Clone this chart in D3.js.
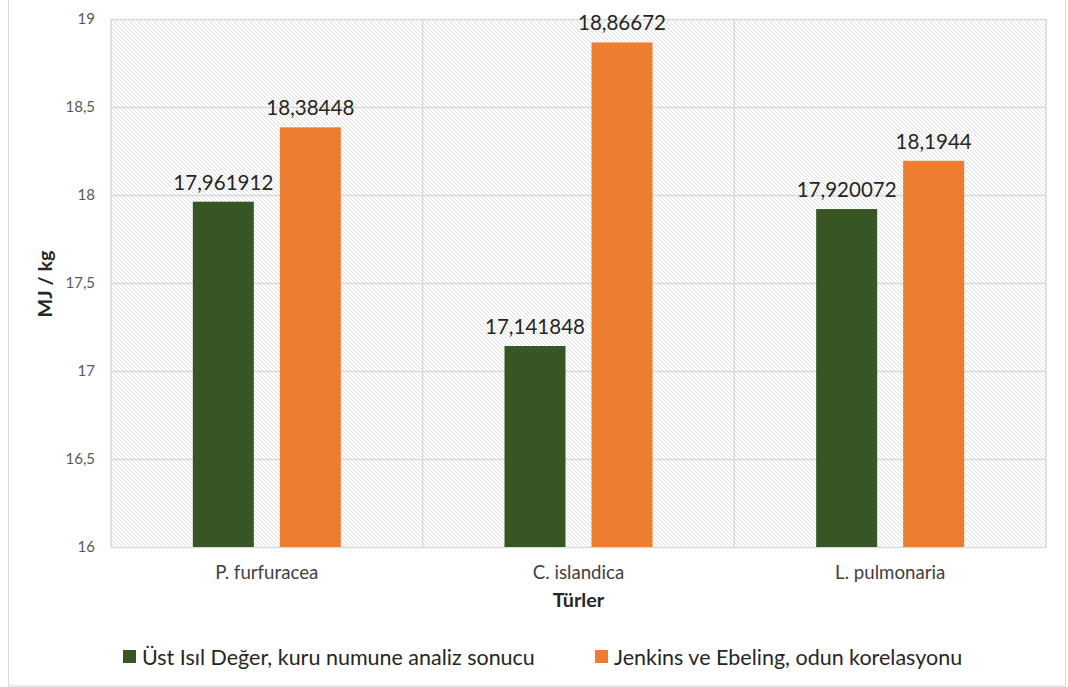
<!DOCTYPE html>
<html><head><meta charset="utf-8">
<script src="https://cdn.jsdelivr.net/npm/d3@7"></script>
<style>body{margin:0;background:#fff}svg{display:block}text{font-family:Lato,"Open Sans",sans-serif}</style>
</head><body><svg id="c" width="1068" height="687"></svg>
<script>
const categories = ["P. furfuracea", "C. islandica", "L. pulmonaria"];
const seriesNames = ["Üst Isıl Değer, kuru numune analiz sonucu", "Jenkins ve Ebeling, odun korelasyonu"];
const series1 = [17.961912, 17.141848, 17.920072];
const series2 = [18.38448, 18.86672, 18.1944];
const labels1 = ["17,961912", "17,141848", "17,920072"];
const labels2 = ["18,38448", "18,86672", "18,1944"];
const yTicks = [16, 16.5, 17, 17.5, 18, 18.5, 19];
const colors = ["#375623", "#ED7D31"];

const svg = d3.select("#c");
const m = {l:111, r:1046, t:19, b:547};
function fit(sel, base, ref, target){
  sel.style("font-size", base+"px");
  const n = sel.node().getComputedTextLength();
  const s = base * target / n;
  return s;
}
// compute font-size scale factors from reference widths
const probe = svg.append("text");
const fsData = fit(probe.text("17,961912"), 19, null, 100);
probe.style("font-weight","normal");
const fsCat = fit(probe.text("P. furfuracea"), 16, null, 103);
probe.style("font-weight","bold");
const fsTitle = fit(probe.text("MJ / kg"), 15, null, 67);
probe.style("font-weight","normal");
const fsLeg = fit(probe.text(seriesNames[0]), 19, null, 393);
probe.remove();

const defs = svg.append("defs");
const pat = defs.append("pattern").attr("id","hatch").attr("patternUnits","userSpaceOnUse")
  .attr("width",4).attr("height",4);
pat.append("rect").attr("width",4).attr("height",4).attr("fill","#fff");
pat.append("path").attr("d","M-1,-1 L5,5 M-1,3 L1,5 M3,-1 L5,1").attr("stroke","#e0e0e0").attr("stroke-width",1);

// outer border
svg.append("rect").attr("x",8.5).attr("y",-2).attr("width",1057).attr("height",688)
  .attr("fill","none").attr("stroke","#d9d9d9").attr("stroke-width",1);

const x = d3.scaleBand().domain(categories).range([m.l, m.r]).padding(0);
const y = d3.scaleLinear().domain([16, 19]).range([m.b, m.t]);

svg.append("rect").attr("x",m.l).attr("y",m.t).attr("width",m.r-m.l).attr("height",m.b-m.t).attr("fill","url(#hatch)");

// gridlines
svg.append("g").selectAll("line").data(yTicks).join("line")
  .attr("x1",m.l).attr("x2",m.r).attr("y1",d=>Math.round(y(d))+0.5).attr("y2",d=>Math.round(y(d))+0.5)
  .attr("stroke","#d9d9d9").attr("stroke-width",1.5);
const vb = [m.l, ...categories.map(c=>x(c)+x.bandwidth())];
svg.append("g").selectAll("line").data(vb).join("line")
  .attr("x1",d=>d).attr("x2",d=>d).attr("y1",m.t).attr("y2",m.b)
  .attr("stroke","#d9d9d9").attr("stroke-width",1.5);

// y axis labels
const yAxis = d3.axisLeft(y).tickValues(yTicks).tickSize(0).tickPadding(0)
  .tickFormat(d=>String(d).replace(".",","));
const ga = svg.append("g").attr("transform",`translate(95,0)`).call(yAxis);
ga.select(".domain").remove();
ga.selectAll("text").attr("fill","#595959").style("font-size","15px").style("font-family","Lato,sans-serif");

// bars
const bw = 61, gap = 26;
const data = categories.map((c,i)=>({c, v:[series1[i],series2[i]], l:[labels1[i],labels2[i]]}));
const g = svg.append("g");
data.forEach(d=>{
  const cx = x(d.c) + x.bandwidth()/2;
  [0,1].forEach(k=>{
    const bx = k===0 ? cx - gap/2 - bw : cx + gap/2;
    g.append("rect").attr("x",bx).attr("y",y(d.v[k])).attr("width",bw).attr("height",y(16)-y(d.v[k]))
      .attr("fill",colors[k]);
    g.append("text").attr("x",bx+bw/2).attr("y",y(d.v[k])-12).attr("text-anchor","middle")
      .attr("fill","#262626").style("font-size",fsData+"px").text(d.l[k]);
  });
});

// x labels
svg.append("g").selectAll("text").data(categories).join("text")
  .attr("x",d=>x(d)+x.bandwidth()/2).attr("y",579).attr("text-anchor","middle")
  .attr("fill","#404040").style("font-size",fsCat+"px").text(d=>d);

svg.append("text").attr("x",(m.l+m.r)/2).attr("y",607).attr("text-anchor","middle")
  .attr("fill","#262626").style("font-size",fsTitle+"px").style("font-weight","bold").text("Türler");
svg.append("text").attr("transform","translate(52,284) rotate(-90)").attr("text-anchor","middle")
  .attr("fill","#262626").style("font-size",fsTitle+"px").style("font-weight","bold").text("MJ / kg");

// legend
const leg = [{x:123, tx:142},{x:595, tx:614}];
leg.forEach((L,i)=>{
  svg.append("rect").attr("x",L.x).attr("y",650).attr("width",13).attr("height",13).attr("fill",colors[i]);
  svg.append("text").attr("x",L.tx).attr("y",665).attr("fill","#262626").style("font-size",fsLeg+"px").text(seriesNames[i]);
});
</script></body></html>
